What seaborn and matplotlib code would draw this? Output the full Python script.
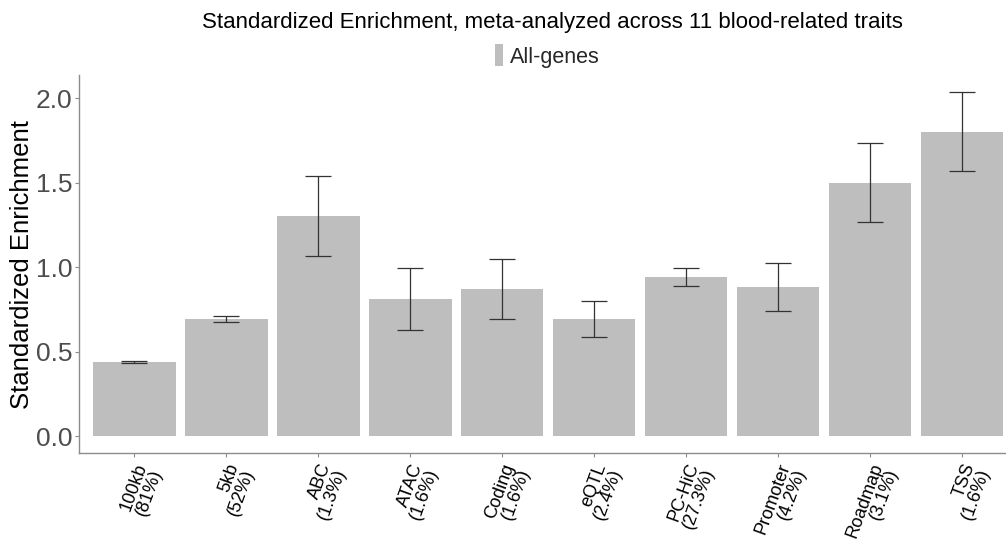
import matplotlib
matplotlib.use("Agg")
import matplotlib.pyplot as plt
from matplotlib.patches import Patch
import numpy as np
import pandas as pd
import seaborn as sns

# Annotation categories (with share of SNPs) and meta-analyzed enrichment
categories = ["100kb\n(81%)", "5kb\n(52%)", "ABC\n(1.3%)", "ATAC\n(1.6%)", "Coding\n(1.6%)",
              "eQTL\n(2.4%)", "PC-HiC\n(27.3%)", "Promoter\n(4.2%)", "Roadmap\n(3.1%)", "TSS\n(1.6%)"]
enrichment = [0.44, 0.69, 1.30, 0.81, 0.87, 0.69, 0.94, 0.88, 1.50, 1.80]
lower = [0.435, 0.672, 1.063, 0.627, 0.690, 0.584, 0.886, 0.740, 1.264, 1.566]
upper = [0.447, 0.712, 1.537, 0.992, 1.049, 0.797, 0.994, 1.022, 1.736, 2.034]
y_ticks = [0.0, 0.5, 1.0, 1.5, 2.0]

df = pd.DataFrame({"category": categories, "enrichment": enrichment,
                   "lower": lower, "upper": upper})

sns.set_theme(style="white")
plt.rcParams["font.family"] = ["Liberation Sans", "DejaVu Sans"]

fig = plt.figure(figsize=(10.06, 5.44), dpi=100)
ax = fig.add_axes([0.0785, 0.1667, 0.9215, 0.6954])

bar_color = "#BEBEBE"
sns.barplot(data=df, x="category", y="enrichment", color=bar_color,
            width=0.9, errorbar=None, saturation=1, ax=ax, edgecolor="none")

x = np.arange(len(df))
ax.errorbar(x, df["enrichment"],
            yerr=[df["enrichment"] - df["lower"], df["upper"] - df["enrichment"]],
            fmt="none", ecolor="#333333", elinewidth=0.9, capsize=9.5, capthick=0.9)

ax.set_xlim(-0.6, 9.478)
ax.set_ylim(-0.102, 2.136)
ax.set_yticks(y_ticks)
ax.set_yticklabels([f"{v:.1f}" for v in y_ticks], fontsize=19, color="#4D4D4D")
ax.set_xticks(x)
ax.set_xticklabels(df["category"], rotation=70, ha="right", va="top",
                   rotation_mode="anchor", fontsize=13, color="black",
                   linespacing=0.95)
ax.set_xlabel("")
ax.set_ylabel("Standardized Enrichment", fontsize=18.5, color="black")
ax.yaxis.set_label_coords(-0.049, 0.5)

for side in ["top", "right"]:
    ax.spines[side].set_visible(False)
for side in ["left", "bottom"]:
    ax.spines[side].set_color("#8C8C8C")
    ax.spines[side].set_linewidth(1.0)

ax.tick_params(axis="both", which="both", length=3, width=0.8, color="#8C8C8C",
               left=True, bottom=True, pad=2)
ax.tick_params(axis="x", pad=2.5)

fig.text(0.549, 0.958, "Standardized Enrichment, meta-analyzed across 11 blood-related traits",
         ha="center", va="center", fontsize=16, color="black")

handle = Patch(facecolor=bar_color, edgecolor="none", label="All-genes")
fig.legend(handles=[handle], loc="center", bbox_to_anchor=(0.544, 0.897),
           frameon=False, fontsize=15.5, handlelength=0.4, handleheight=1.2,
           handletextpad=0.3, borderpad=0)

fig.savefig("out.png", dpi=100)
